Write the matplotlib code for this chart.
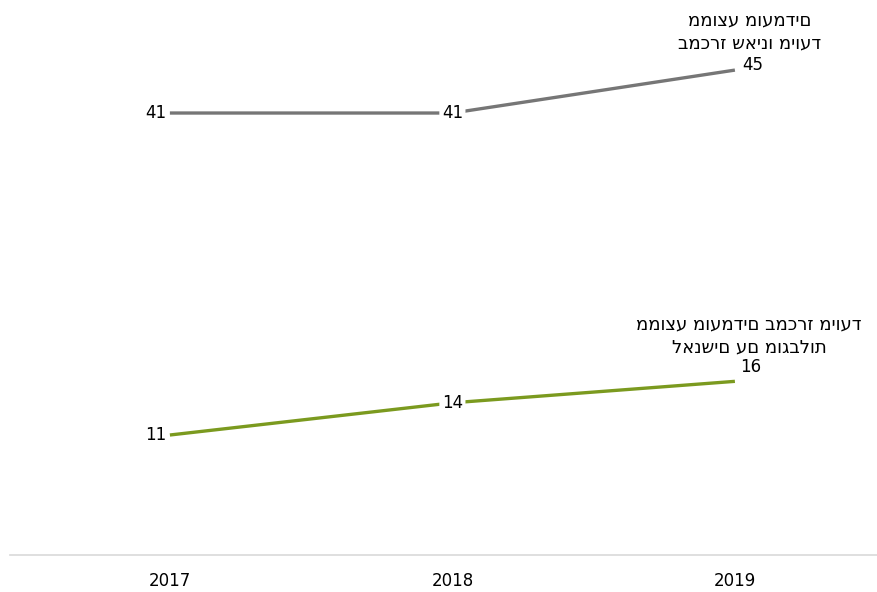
import matplotlib
matplotlib.use('Agg')
import matplotlib.pyplot as plt

years = ['2017', '2018', '2019']
not_designated = [41, 41, 45]
designated = [11, 14, 16]
name_not_designated = ['ממוצע מועמדים', 'במכרז שאינו מיועד']
name_designated = ['ממוצע מועמדים במכרז מיועד', 'לאנשים עם מוגבלות']

gray = '#767676'
green = '#7b9a1f'

fig = plt.figure(figsize=(8.77, 5.92), dpi=100)
ax = fig.add_axes([10 / 877, 37 / 592, 867 / 877, 555 / 592])

x = list(range(len(years)))
ax.plot(x, not_designated, color=gray, lw=2.4, solid_capstyle='butt')
ax.plot(x, designated, color=green, lw=2.4, solid_capstyle='butt')

box = dict(boxstyle='round,pad=0.15', fc='white', ec='none')
for series, off_last in [(not_designated, (18, 5)), (designated, (16, 14))]:
    for i, v in enumerate(series):
        off = off_last if i == len(series) - 1 else (-14 if i == 0 else 0, 0)
        ax.annotate(str(v), (i, v), xytext=off, textcoords='offset pixels',
                    ha='center', va='center', fontsize=12, color='black', bbox=box)

ax.annotate('\n'.join(name_not_designated), (2, not_designated[-1]), xytext=(15, 18),
            textcoords='offset pixels', ha='center', va='bottom', fontsize=13,
            linespacing=1.35, multialignment='center')
ax.annotate('\n'.join(name_designated), (2, designated[-1]), xytext=(14, 25),
            textcoords='offset pixels', ha='center', va='bottom', fontsize=13,
            linespacing=1.35, multialignment='center')

ax.set_xlim(-0.566, 2.503)
ax.set_ylim(-0.18, 51.53)
ax.set_xticks(x)
ax.set_xticklabels(years, fontsize=12)
ax.tick_params(axis='x', length=0, pad=12)
ax.set_yticks([])
for s in ['top', 'right', 'left']:
    ax.spines[s].set_visible(False)
ax.spines['bottom'].set_color('#d9d9d9')
ax.spines['bottom'].set_linewidth(1.2)

plt.savefig('out.png', dpi=100)
plt.close()
